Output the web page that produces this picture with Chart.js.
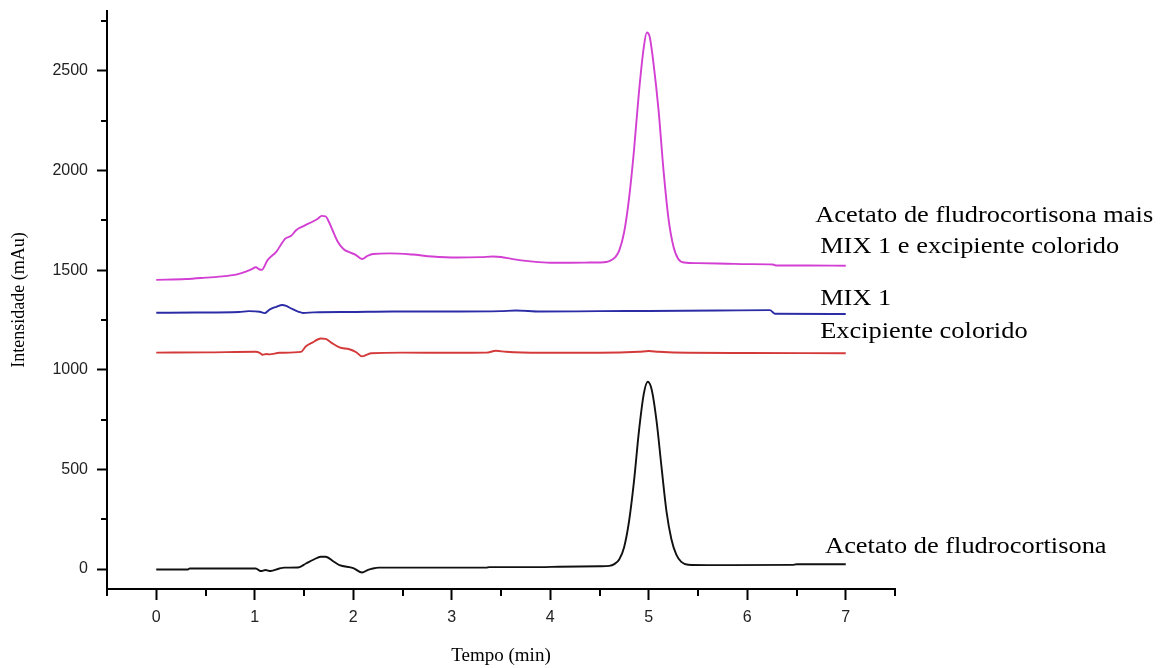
<!DOCTYPE html>
<html><head><meta charset="utf-8">
<script src="https://cdn.jsdelivr.net/npm/chart.js@4.4.1/dist/chart.umd.min.js"></script>
<style>html,body{margin:0;padding:0;background:#fff}canvas{display:block}</style>
</head><body>
<canvas id="c" width="1164" height="668"></canvas>
<script>
// ---- data (time in min, intensity in mAu) ----
const seriesNames = [
  'Acetato de fludrocortisona',
  'Excipiente colorido',
  'MIX 1',
  'Acetato de fludrocortisona mais MIX 1 e excipiente colorido'
];

const acetatoTime = [0.00,0.32,0.34,1.01,1.06,1.11,1.16,1.25,1.30,1.44,1.52,1.60,1.67,1.72,1.80,1.86,2.00,2.09,2.15,2.20,2.26,3.35,3.38,3.90,4.09,4.50,4.60,4.65,4.70,4.75,4.80,4.85,4.90,4.95,4.99,5.03,5.08,5.13,5.18,5.23,5.28,5.33,5.40,5.60,6.46,6.50,7.00];
const acetatoSignal = [-2,-2,3,3,-10,-5,-10,3,7,8,28,48,62,62,38,20,5,-17,-4,3,7,7,10,10,12,14,16,25,48,110,240,440,690,880,940,900,740,510,290,150,72,36,22,20,21,24,24];

const excipTime = [0.00,0.50,1.01,1.05,1.08,1.12,1.15,1.25,1.47,1.52,1.58,1.67,1.72,1.78,1.86,1.96,2.03,2.09,2.14,2.18,2.50,3.00,3.35,3.45,3.55,3.90,4.50,4.90,5.00,5.10,5.40,6.00,7.00];
const excipSignal = [1086,1087,1090,1085,1075,1079,1077,1085,1090,1118,1135,1157,1155,1135,1112,1103,1088,1067,1076,1083,1086,1085,1086,1095,1090,1085,1085,1090,1094,1090,1085,1084,1083];

const mixTime = [0.00,0.40,0.84,0.94,1.05,1.10,1.15,1.22,1.28,1.32,1.38,1.44,1.49,1.60,2.00,2.40,3.00,3.50,3.65,3.90,4.50,5.00,5.70,6.23,6.28,7.00];
const mixSignal = [1286,1287,1290,1294,1291,1284,1302,1316,1325,1320,1305,1292,1285,1288,1290,1292,1292,1294,1297,1292,1294,1295,1297,1299,1281,1280];

const allTime = [0.00,0.30,0.50,0.70,0.81,0.91,0.97,1.01,1.05,1.07,1.13,1.22,1.31,1.37,1.42,1.50,1.59,1.64,1.68,1.72,1.75,1.79,1.84,1.90,1.96,2.02,2.09,2.14,2.20,2.37,2.60,2.80,3.05,3.30,3.42,3.50,3.62,3.80,4.00,4.20,4.40,4.57,4.62,4.66,4.70,4.75,4.80,4.85,4.90,4.95,4.98,5.01,5.05,5.10,5.15,5.20,5.25,5.30,5.36,5.50,5.80,6.00,6.26,6.30,6.60,7.00];
const allSignal = [1451,1455,1462,1470,1477,1492,1505,1514,1503,1501,1550,1593,1658,1672,1700,1722,1744,1758,1772,1770,1745,1700,1645,1606,1590,1578,1556,1570,1581,1584,1578,1568,1563,1565,1568,1566,1555,1544,1537,1537,1538,1541,1550,1565,1598,1690,1860,2100,2390,2620,2692,2670,2530,2300,2000,1760,1620,1556,1538,1535,1532,1530,1528,1523,1523,1522];

const xTickValues = [0,1,2,3,4,5,6,7];
const xMinorValues = [-0.5,0.5,1.5,2.5,3.5,4.5,5.5,6.5,7.5];
const yTickValues = [0,500,1000,1500,2000,2500];
const yMinorValues = [250,750,1250,1750,2250,2750];

// ---- helpers ----
const pts = (xs, ys) => xs.map((x, i) => ({x, y: ys[i]}));

const minorTicks = {
  id: 'minorTicks',
  afterDraw(chart) {
    const ctx = chart.ctx, xs = chart.scales.x, ys = chart.scales.y, ca = chart.chartArea;
    ctx.save();
    ctx.strokeStyle = '#000';
    ctx.lineWidth = 2;
    ctx.beginPath();
    xMinorValues.forEach(v => {
      const p = Math.round(xs.getPixelForValue(v));
      ctx.moveTo(p, ca.bottom); ctx.lineTo(p, ca.bottom + 7);
    });
    yMinorValues.forEach(v => {
      const p = Math.round(ys.getPixelForValue(v));
      ctx.moveTo(ca.left, p); ctx.lineTo(ca.left - 6, p);
    });
    ctx.stroke();
    ctx.restore();
  }
};

const curveLabels = {
  id: 'curveLabels',
  afterDraw(chart, args, opts) {
    const ctx = chart.ctx, xs = chart.scales.x, ys = chart.scales.y;
    ctx.save();
    ctx.fillStyle = '#000';
    ctx.font = opts.font;
    ctx.textAlign = 'left';
    ctx.textBaseline = 'alphabetic';
    opts.items.forEach(it => {
      ctx.save();
      ctx.translate(xs.getPixelForValue(it.x), ys.getPixelForValue(it.y));
      ctx.scale(opts.stretch, 1);
      ctx.fillText(it.text, 0, 0);
      ctx.restore();
    });
    ctx.restore();
  }
};

const lineDs = (label, xs, ys, color) => ({
  label, data: pts(xs, ys), borderColor: color, backgroundColor: color,
  borderWidth: 1.9, pointRadius: 0, fill: false, cubicInterpolationMode: 'monotone'
});

new Chart(document.getElementById('c'), {
  type: 'line',
  data: {
    datasets: [
      lineDs(seriesNames[0], acetatoTime, acetatoSignal, '#111111'),
      lineDs(seriesNames[1], excipTime, excipSignal, '#d43a3a'),
      lineDs(seriesNames[2], mixTime, mixSignal, '#2c2ca6'),
      lineDs(seriesNames[3], allTime, allSignal, '#d23fd2')
    ]
  },
  options: {
    responsive: false,
    animation: false,
    devicePixelRatio: 1,
    layout: {padding: {top: 11, right: 269, left: 0, bottom: 0}},
    plugins: {
      legend: {display: false},
      tooltip: {enabled: false},
      curveLabels: {
        font: '24px "Liberation Serif", "Times New Roman", serif',
        stretch: 1.1,
        items: [
          {text: 'Acetato de fludrocortisona mais', x: 6.69, y: 1742},
          {text: 'MIX 1 e excipiente colorido', x: 6.74, y: 1588},
          {text: 'MIX 1', x: 6.74, y: 1325},
          {text: 'Excipiente colorido', x: 6.74, y: 1160},
          {text: 'Acetato de fludrocortisona', x: 6.79, y: 80}
        ]
      }
    },
    scales: {
      x: {
        type: 'linear', min: -0.5, max: 7.5,
        afterBuildTicks: s => { s.ticks = xTickValues.map(v => ({value: v})); },
        afterFit: s => { s.height = 79; s.paddingLeft = 0; s.paddingRight = 0; },
        ticks: {
          font: {family: '"Liberation Sans", Arial, sans-serif', size: 16},
          color: '#222', padding: 8, maxRotation: 0, autoSkip: false,
          callback: v => String(v)
        },
        grid: {drawOnChartArea: false, drawTicks: true, tickLength: 11, tickColor: '#000', tickWidth: 2},
        border: {display: true, color: '#000', width: 2},
        title: {
          display: true, text: 'Tempo (min)', color: '#000',
          font: {family: '"Liberation Serif", "Times New Roman", serif', size: 19, lineHeight: 1},
          padding: {top: 0, bottom: 2}
        }
      },
      y: {
        type: 'linear', min: -100, max: 2800,
        afterBuildTicks: s => { s.ticks = yTickValues.map(v => ({value: v})); },
        afterFit: s => { s.width = 107; s.paddingTop = 0; s.paddingBottom = 0; },
        ticks: {
          font: {family: '"Liberation Sans", Arial, sans-serif', size: 16},
          color: '#222', padding: 9,
          callback: v => String(v)
        },
        grid: {drawOnChartArea: false, drawTicks: true, tickLength: 10, tickColor: '#000', tickWidth: 2},
        border: {display: true, color: '#000', width: 2},
        title: {
          display: true, text: 'Intensidade (mAu)', color: '#000',
          font: {family: '"Liberation Serif", "Times New Roman", serif', size: 18, lineHeight: 1},
          padding: {top: 10, bottom: 0}
        }
      }
    }
  },
  plugins: [minorTicks, curveLabels]
});
</script>
</body></html>
